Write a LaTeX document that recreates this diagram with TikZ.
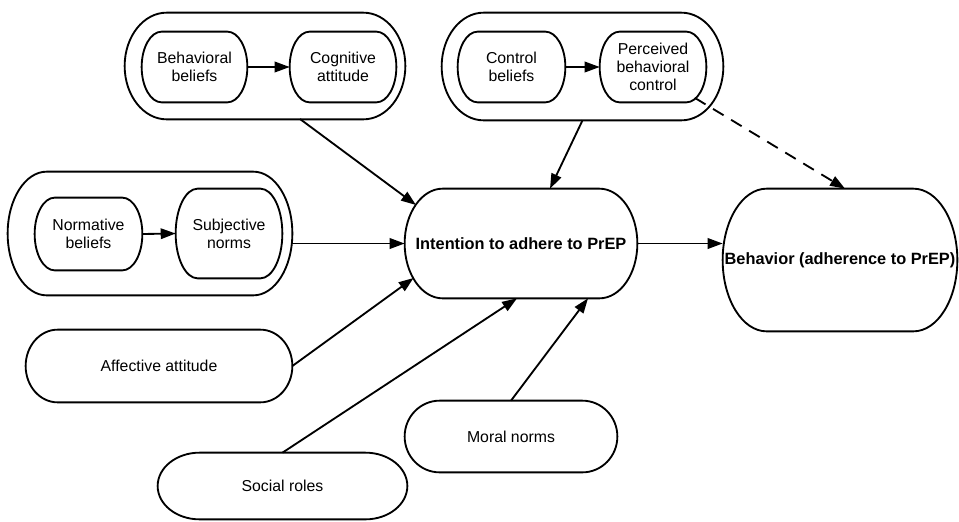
\documentclass[tikz,border=0pt]{standalone}
\usepackage{fontspec}
\setmainfont{Liberation Sans}
\usetikzlibrary{arrows.meta,calc}
\tikzset{
 sbox/.style 2 args={minimum width=#1*0.02cm, minimum height=#2*0.02cm, inner sep=0pt, align=center, font=\fontsize{9}{10.4}\selectfont},
 bsbox/.style 2 args={sbox={#1}{#2}, font=\fontsize{9.3}{10.4}\selectfont\bfseries},
 outline/.style={line width=1.05pt, draw=black},
 conn/.style={line width=1.05pt, -{Triangle[length=8.5pt,width=6pt]}},
 dconn/.style={conn, dash pattern=on 7pt off 5pt},
}
\newcommand{\stadium}[2]{%
 \draw[outline] let \p1=(#1.north west), \p2=(#1.south east), \p3=($(#1.north)-(#1.center)$) in
 (\x1+#2,\y1) -- (\x2-#2,\y1) arc[start angle=90,end angle=-90,x radius=#2,y radius=\y3]
 -- (\x1+#2,\y2) arc[start angle=270,end angle=90,x radius=#2,y radius=\y3] -- cycle;}
\begin{document}
\begin{tikzpicture}[x=0.02cm,y=-0.02cm]
\useasboundingbox (0,0) rectangle (959,521);
% groups
\node[sbox={280}{106}] (tlout) at (265,66) {};
\node[sbox={105}{70}] (bb) at (194.5,67) {Behavioral\\beliefs};
\node[sbox={106}{70}] (ca) at (343,67) {Cognitive\\attitude};
\node[sbox={281}{107}] (trout) at (582.5,66.5) {};
\node[sbox={107}{70}] (cb) at (511.5,67) {Control\\beliefs};
\node[sbox={106}{70}] (pbc) at (653,67) {Perceived\\behavioral\\control};
\node[sbox={284}{123}] (lout) at (150,233.5) {};
\node[sbox={107}{72}] (nb) at (88.5,234) {Normative\\beliefs};
\node[sbox={106}{89}] (sn) at (229,233.5) {Subjective\\norms};
% main
\node[bsbox={232}{109}] (int) at (521,243.5) {Intention to adhere to PrEP};
\node[bsbox={234}{142}] (beh) at (840,260) {Behavior (adherence to PrEP)};
\node[sbox={266}{72}] (aff) at (159,366) {Affective attitude};
\node[sbox={249}{66}] (soc) at (282.5,486) {Social roles};
\node[sbox={212}{71}] (mor) at (511,436.5) {Moral norms};
% outlines
\stadium{tlout}{0.84cm}
\stadium{bb}{0.4cm}
\stadium{ca}{0.4cm}
\stadium{trout}{0.84cm}
\stadium{cb}{0.4cm}
\stadium{pbc}{0.4cm}
\stadium{lout}{0.78cm}
\stadium{nb}{0.4cm}
\stadium{sn}{0.44cm}
\stadium{int}{0.76cm}
\stadium{beh}{0.88cm}
\stadium{aff}{0.64cm}
\stadium{soc}{0.84cm}
\stadium{mor}{0.7cm}
% connectors
\draw[conn] (bb.east) -- (ca.west);
\draw[conn] (cb.east) -- (pbc.west);
\draw[conn] (nb.east) -- (sn.west);
\draw[conn] ($(tlout.center)+(35,53)$) -- ($(int.center)+(-105,-38.5)$);
\draw[conn] (trout.south) -- ($(int.north)+(29,0)$);
\draw[dconn] ($(pbc.center)+(42,31)$) -- ($(beh.north)+(5,0)$);
\draw[conn] (lout.east |- int.west) -- (int.west);
\draw[conn] (aff.east) -- ($(int.center)+(-107.4,34.5)$);
\draw[conn] (soc.north) -- ($(int.south)+(-4,0)$);
\draw[conn] (mor.north) -- ($(int.south)+(67,0)$);
\draw[conn] (int.east) -- (int.east -| beh.west);
\end{tikzpicture}
\end{document}
